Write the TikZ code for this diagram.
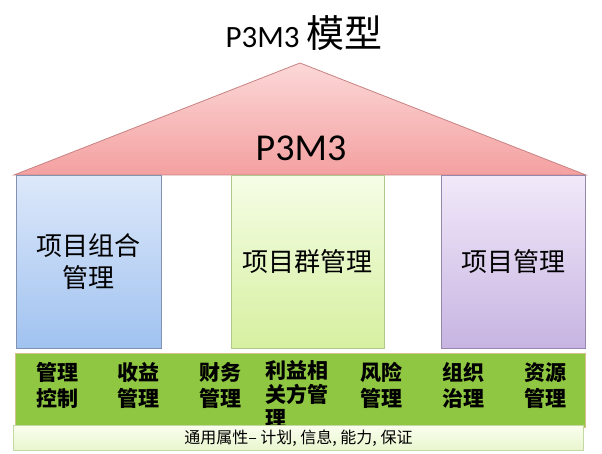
\documentclass[tikz,border=0pt]{standalone}
\usepackage{fontspec}
\setmainfont{Carlito}
\newfontfamily\cjk{Noto Sans CJK SC}
\usepackage{tikz}

\definecolor{roofTop}{RGB}{252,216,216}
\definecolor{roofBot}{RGB}{244,160,160}
\definecolor{roofEdge}{RGB}{200,130,130}
\definecolor{blueTop}{RGB}{221,232,250}
\definecolor{blueBot}{RGB}{160,194,240}
\definecolor{blueEdge}{RGB}{130,146,176}
\definecolor{limeTop}{RGB}{246,253,230}
\definecolor{limeBot}{RGB}{214,240,160}
\definecolor{limeEdge}{RGB}{176,200,140}
\definecolor{lilacTop}{RGB}{241,233,249}
\definecolor{lilacBot}{RGB}{199,180,226}
\definecolor{lilacEdge}{RGB}{150,136,172}
\definecolor{barGreen}{RGB}{143,198,66}
\definecolor{barEdge}{RGB}{214,192,140}
\definecolor{stripTop}{RGB}{250,254,238}
\definecolor{stripBot}{RGB}{232,246,206}
\definecolor{stripEdge}{RGB}{196,216,164}

\begin{document}
\begin{tikzpicture}[x=1pt,y=-1pt,
	pillar/.style={draw, line width=0.8pt, anchor=north west, minimum width=#1, minimum height=173pt, inner sep=0pt, align=center, font=\cjk\fontsize{26}{32}\selectfont},
	area/.style={anchor=north, inner sep=0pt, align=center, font=\cjk\bfseries\fontsize{21}{26}\selectfont}]
	\useasboundingbox (0,0) rectangle (602,454);

	% roof
	\coordinate (apex) at (300,63);
	\coordinate (eaveL) at (14,175);
	\coordinate (eaveR) at (586,175);
	\draw[draw=roofEdge, line width=0.8pt, top color=roofTop, bottom color=roofBot] (eaveL) -- (apex) -- (eaveR) -- cycle;

	\node[anchor=base, font=\fontsize{31}{36}\selectfont] (title) at (304,48) {P3M3 {\cjk\fontsize{38}{40}\selectfont 模型}};
	\node[anchor=base, font=\fontsize{38}{40}\selectfont] (p3m3) at (301,161) {P3M3};

	% pillars
	\node[pillar=145pt, draw=blueEdge, top color=blueTop, bottom color=blueBot] (portfolio) at (16,175) {项目组合\\管理};
	\node[pillar=153pt, draw=limeEdge, top color=limeTop, bottom color=limeBot] (programme) at (231,175) {项目群管理};
	\node[pillar=144pt, draw=lilacEdge, top color=lilacTop, bottom color=lilacBot] (project) at (441,175) {项目管理};

	% base
	\node[draw=barEdge, fill=barGreen, line width=0.8pt, anchor=north west, minimum width=570pt, minimum height=74pt] (base) at (15,353) {};
	\foreach \x/\txt [count=\i] in {57/管理\\控制, 138/收益\\管理, 220/财务\\管理, 381/风险\\管理, 463/组织\\治理, 545/资源\\管理}
		\node[area] (area\i) at (\x,362) {\txt};
	\node[area, align=left, font=\cjk\bfseries\fontsize{21}{24}\selectfont] (stake) at (297,360) {利益相\\关方管\\理};

	\node[draw=stripEdge, line width=0.8pt, top color=stripTop, bottom color=stripBot, anchor=north west, minimum width=570pt, minimum height=25pt, inner sep=0pt, font=\cjk\fontsize{16}{18}\selectfont] (common) at (13,425) {通用属性– 计划, 信息, 能力, 保证};
\end{tikzpicture}
\end{document}
